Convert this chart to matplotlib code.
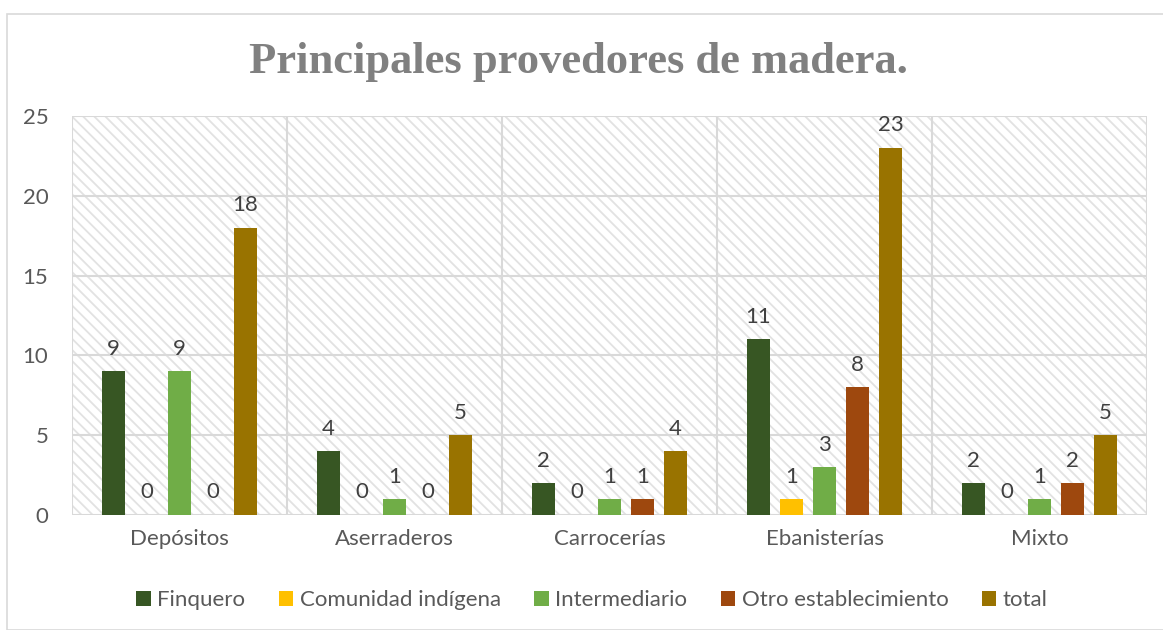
import matplotlib.pyplot as plt
import matplotlib.patches as mpatches
import numpy as np

# Data
categories = ['Depósitos', 'Aserraderos', 'Carrocerías', 'Ebanisterías', 'Mixto']
series_names = ['Finquero', 'Comunidad indígena', 'Intermediario', 'Otro establecimiento', 'total']
finquero = [9, 4, 2, 11, 2]
comunidad = [0, 0, 0, 1, 0]
intermediario = [9, 1, 1, 3, 1]
otro = [0, 0, 1, 8, 2]
total = [18, 5, 4, 23, 5]

colors = ['#375623', '#FFC000', '#70AD47', '#9E480E', '#997300']
grid_col = '#D9D9D9'
font = ['Lato', 'DejaVu Sans']

plt.rcParams['font.family'] = font
plt.rcParams['hatch.linewidth'] = 1.3


def main():
    fig = plt.figure(figsize=(11.63, 6.3), dpi=100)
    ax = fig.add_axes([72 / 1163, 1 - 515 / 630, 1075 / 1163, 399 / 630])

    # chart border
    fig.patches.append(mpatches.Rectangle((7 / 1163, 0), 1.2, 1 - 14 / 630,
                                          transform=fig.transFigure, fill=False,
                                          edgecolor=grid_col, lw=1.2))

    n = len(categories)
    ax.set_xlim(-0.5, n - 0.5)
    ax.set_ylim(0, 25)

    # hatched plot background
    ax.add_patch(mpatches.Rectangle((-0.5, 0), n, 25, facecolor='white',
                                    edgecolor='#E2E2E2', hatch='\\\\\\', lw=0, zorder=0))

    for y in range(0, 26, 5):
        ax.axhline(y, color=grid_col, lw=1.5, zorder=1)
    for xb in np.arange(-0.5, n, 1):
        ax.axvline(xb, color=grid_col, lw=1.5, zorder=1)

    data = [finquero, comunidad, intermediario, otro, total]
    x = np.arange(n)
    slot = 33 / 215
    width = 23 / 215
    for i, (name, vals, c) in enumerate(zip(series_names, data, colors)):
        xs = x + (i - 2) * slot
        bars = ax.bar(xs, vals, width, color=c, label=name, zorder=3)
        for b, v in zip(bars, vals):
            ax.annotate(str(v), (b.get_x() + b.get_width() / 2, v),
                        xytext=(0, 9), textcoords='offset points',
                        ha='center', va='bottom', fontsize=16, color='#404040')

    for s in ax.spines.values():
        s.set_visible(False)
    ax.set_xticks(x)
    ax.set_xticklabels(categories)
    ax.set_yticks(range(0, 26, 5))
    ax.tick_params(length=0, labelsize=16, labelcolor='#595959')
    ax.tick_params(axis='y', pad=17)
    ax.tick_params(axis='x', pad=10)

    fig.text(578 / 1163, 1 - 62 / 630, 'Principales provedores de madera.',
             family='Liberation Serif', weight='bold', fontsize=32,
             color='#808080', ha='center', va='center')

    fig.legend(loc='center', bbox_to_anchor=(592 / 1163, 1 - 600 / 630), ncol=5,
               frameon=False, fontsize=16, handlelength=0.65, handleheight=0.65,
               handletextpad=0.3, columnspacing=1.5, labelcolor='#595959')

    fig.savefig('out.png', dpi=100)


if __name__ == "__main__":
    main()
